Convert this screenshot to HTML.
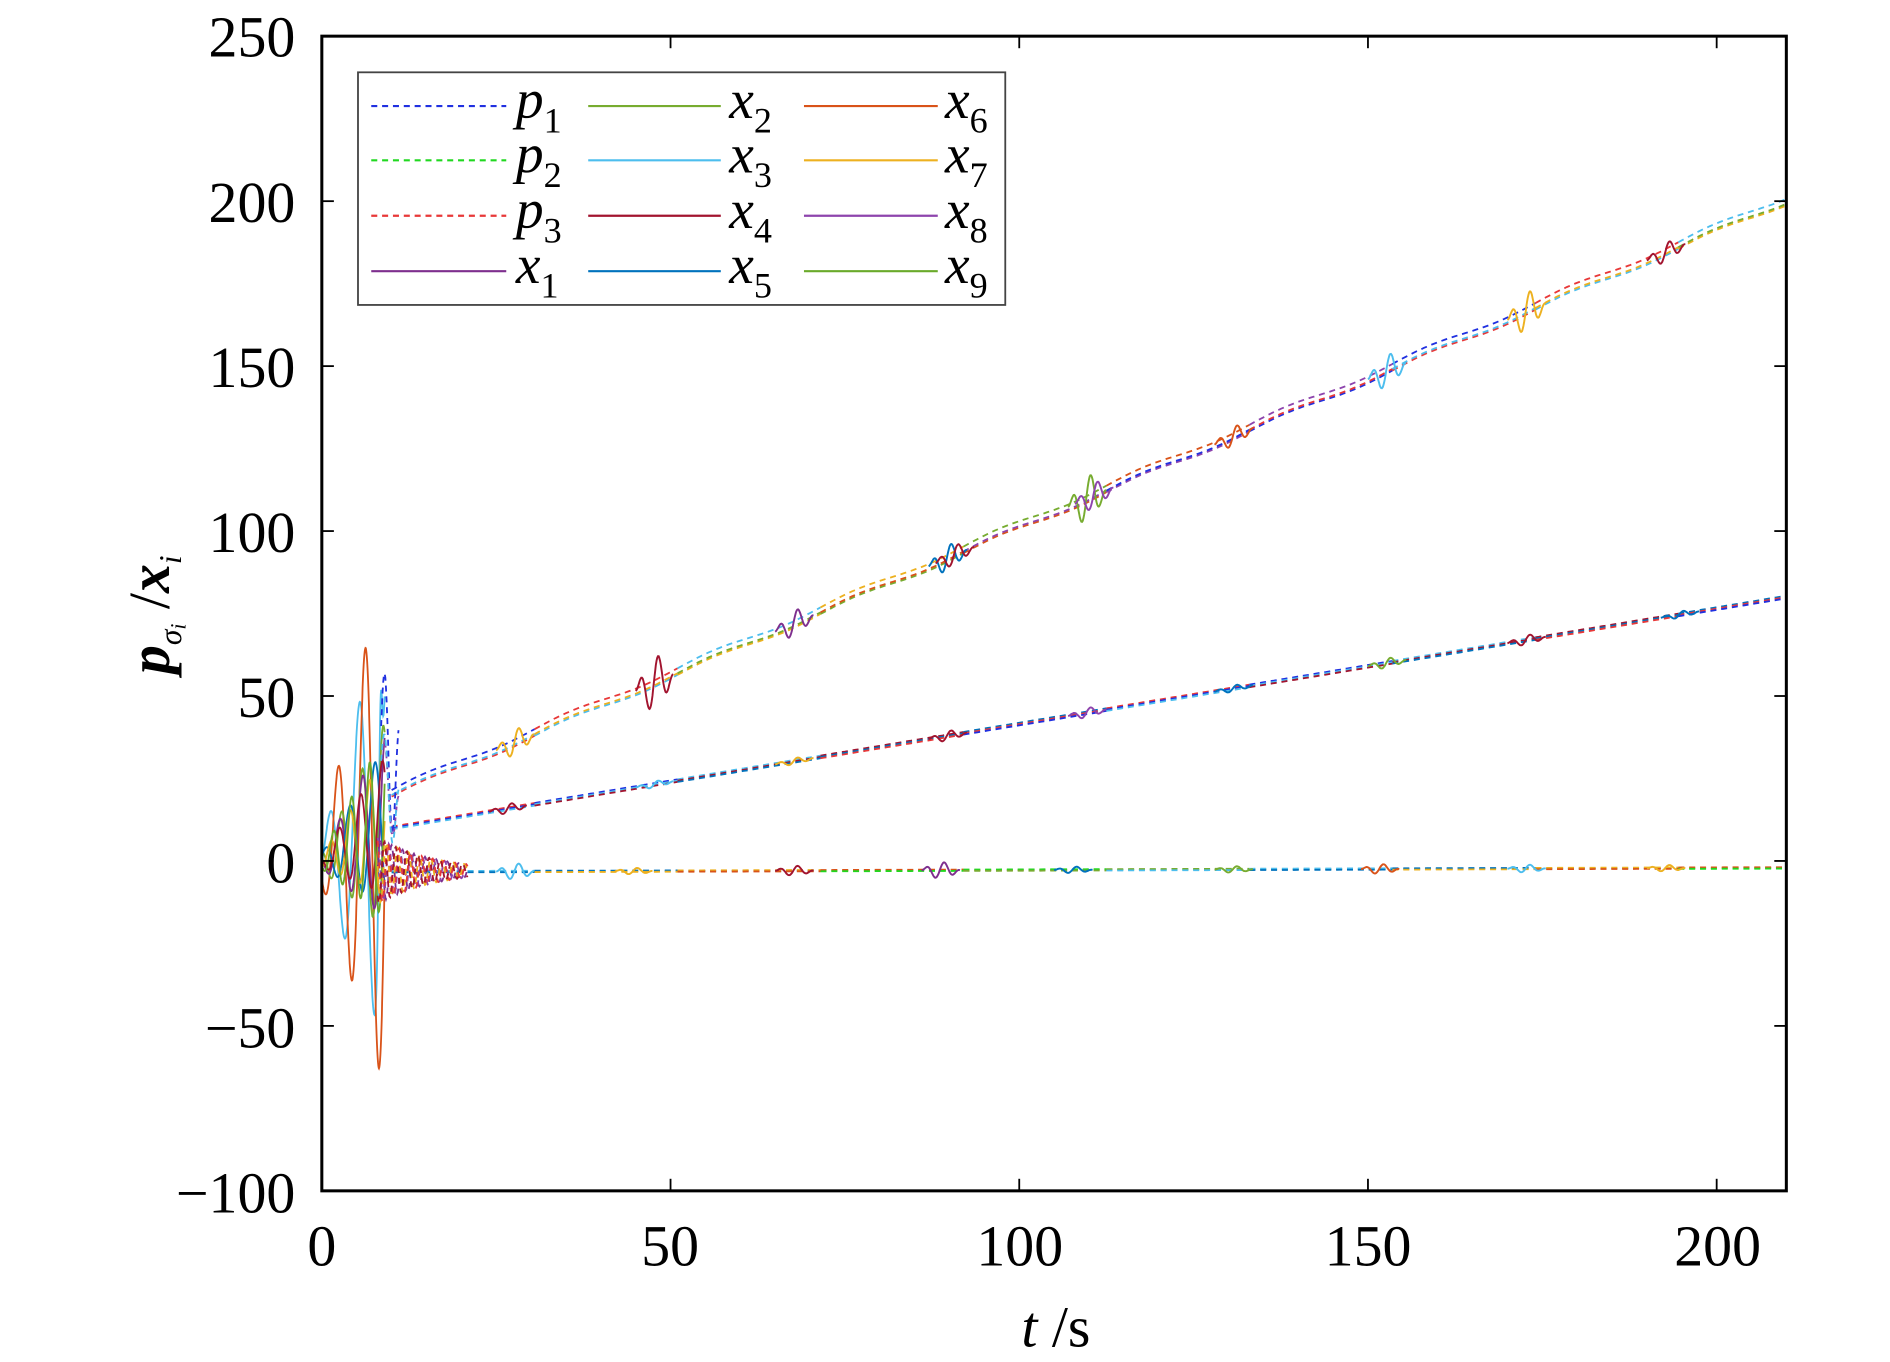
<!DOCTYPE html>
<html><head><meta charset="utf-8"><style>
html,body{margin:0;padding:0;background:#fff;}
svg{display:block;}
text{font-family:"Liberation Serif",serif;fill:#000;}
</style></head><body>
<svg id="s" width="1890" height="1362" viewBox="0 0 1568 1130" preserveAspectRatio="none" xmlns="http://www.w3.org/2000/svg">
<g id="plot"></g>
<rect x="267" y="30" width="1215" height="958" fill="none" stroke="#000" stroke-width="2.5"/>
<g id="ticks" stroke="#000" stroke-width="1.5"></g>
<g font-size="48" text-anchor="end">
<text x="245" y="47">250</text><text x="245" y="184">200</text><text x="245" y="321">150</text>
<text x="245" y="458">100</text><text x="245" y="595">50</text><text x="245" y="732">0</text>
<text x="245" y="869">−50</text><text x="245" y="1006">−100</text>
</g>
<g font-size="48" text-anchor="middle">
<text x="267" y="1050">0</text><text x="556" y="1050">50</text><text x="846" y="1050">100</text>
<text x="1135" y="1050">150</text><text x="1425" y="1050">200</text>
</g>
<text x="876" y="1117" font-size="48" text-anchor="middle"><tspan font-style="italic">t</tspan> /s</text>
<text transform="translate(140,510) rotate(-90)" font-size="48" text-anchor="middle"><tspan font-style="italic" font-weight="bold">p</tspan><tspan font-style="italic" font-size="26" dy="10">σ</tspan><tspan font-style="italic" font-size="18" dy="4">i</tspan><tspan dy="-14">  /</tspan><tspan font-style="italic" font-weight="bold">x</tspan><tspan font-style="italic" font-size="26" dy="10">i</tspan></text>
<g id="legend">
<rect x="297" y="60" width="537" height="193" fill="#fff" stroke="#444" stroke-width="1.5"/>
</g>
</svg>
<script>
const NS="http://www.w3.org/2000/svg";
const X=t=>267+t*5.786, Y=v=>714.3-v*2.737;
const C={p1:"#2030e0",p2:"#20d820",p3:"#e83838",x1:"#7e2f8e",x2:"#77ac30",x3:"#4dbeee",x4:"#a2142f",x5:"#0072bd",x6:"#d95319",x7:"#edb120",x8:"#8e44ad",x9:"#6aaa2a"};
const plot=document.getElementById("plot");
function path(pts,col,dash,w){const p=document.createElementNS(NS,"path");
 p.setAttribute("d","M"+pts.map(q=>X(q[0]).toFixed(1)+","+Y(q[1]).toFixed(1)).join("L"));
 p.setAttribute("fill","none");p.setAttribute("stroke",col);p.setAttribute("stroke-width",w||1.6);
 if(dash)p.setAttribute("stroke-dasharray","5,4");plot.appendChild(p);}
const trends=[t=>20+0.9*(t-10),t=>10+0.35*(t-10),t=>-3.3+0.006*(t-10)];
const dcols=[["p1","p3","x3","x7","x2","x6","x8"],["p3","p1","x3","x4","x5"],["x2","x3","x5","x7","x6","p2"]];
const offs=[[1.5,-0.5,0,-1.2],[0.4,0,-0.4,0.2],[0,0.2,-0.2,0.1]];
trends.forEach((f,k)=>{
 for(let s=10;s<210;s+=20.5){
  const cols=dcols[k];
  for(let j=0;j<3;j++){const c=cols[(Math.floor(s/20)+j)%cols.length];const o=offs[k][j%offs[k].length];
   const pts=[];for(let t=s;t<=Math.min(s+20.5,210);t+=0.5){const st=k==0?0.8*Math.sin((t-s)/20.5*Math.PI*2):0;pts.push([t,f(t)+o+st]);}
   path(pts,C[c],true,1.5);}
 }
});
const bursts=[
[0,25,"x7",4],[0,45,"x4",8],[0,65,"x1",4],[0,87,"x5",4],[0,88,"x4",3],[0,107,"x2",7],[0,108,"x8",4],[0,128,"x6",3],[0,150,"x3",5],[0,170,"x7",6],[0,190,"x4",3],
[1,24,"x4",1.5],[1,45,"x3",1],[1,65,"x7",1],[1,87,"x4",1.5],[1,107,"x8",1.5],[1,128,"x5",1],[1,150,"x2",1.5],[1,170,"x4",1.5],[1,192,"x5",1],
[2,25,"x3",2.5],[2,42,"x7",1],[2,65,"x4",1.5],[2,86,"x1",2.5],[2,105,"x5",1],[2,128,"x2",1],[2,149,"x6",1.5],[2,170,"x3",1.2],[2,190,"x7",1]];
bursts.forEach(b=>{const f=trends[b[0]];const pts=[];
 for(let t=b[1];t<=b[1]+5.5;t+=0.1){const e=Math.sin((t-b[1])/5.5*Math.PI);pts.push([t,f(t)+b[3]*e*Math.sin((t-b[1])*2*Math.PI/2.6)]);}
 path(pts,C[b[2]],false,1.6);});
const early=[["x3",0,0.95,1,4.3],["x6",1,1.15,-1,3.9],["x2",2,0.45,1,3.0],["x1",3,0.4,1,3.3],["x5",4,0.35,-1,3.6],["x7",5,0.3,1,2.8],["x4",6,0.3,-1,3.1],["x9",7,0.4,-1,2.6]];
early.forEach(e=>{const pts=[];for(let t=0;t<=9.0;t+=0.05){const a=e[2]*(6+7*t);let v=a*e[3]*Math.sin(2*Math.PI*t/e[4]+e[1])+t*1.2;
 if(e[0]=="x3")v+=55*Math.exp(-Math.pow((t-8.4)/0.35,2));pts.push([t,v]);}path(pts,C[e[0]],false,1.5);});
[["x1",0],["x8",1.5],["x7",3],["p3",2],["x4",4]].forEach(d=>{const pts=[];for(let t=8;t<=21;t+=0.1){const a=10*Math.exp(-(t-8)/8);pts.push([t,-3+a*Math.sin(2*Math.PI*t/1.6+d[1])]);}path(pts,C[d[0]],true,1.5);});
[["p1",20,-1],["x8",10,1],["x3",12,1]].forEach(d=>{const pts=[];for(let t=8.5;t<=11;t+=0.1){pts.push([t,trends[d[2]>0?1:0](11)+d[1]*Math.sin((t-8.5)*3)+(11-t)*8]);}path(pts,C[d[0]],true,1.5);});
const tk=document.getElementById("ticks");
function ln(a,b,c,d){const l=document.createElementNS(NS,"line");l.setAttribute("x1",a);l.setAttribute("y1",b);l.setAttribute("x2",c);l.setAttribute("y2",d);tk.appendChild(l);}
for(let v=-100;v<=250;v+=50){const y=Y(v);ln(267,y,277,y);ln(1472,y,1482,y);}
for(let t=0;t<=200;t+=50){const x=X(t);ln(x,988,x,978);ln(x,30,x,40);}
const lg=document.getElementById("legend");
const rows=[88,133,179,225];
const items=[["p1","p","1",true],["p2","p","2",true],["p3","p","3",true],["x1","x","1"],["x2","x","2"],["x3","x","3"],["x4","x","4"],["x5","x","5"],["x6","x","6"],["x7","x","7"],["x8","x","8"],["x9","x","9"]];
const colx=[[308,420,428],[488,598,605],[667,778,784]];
items.forEach((it,i)=>{const c=colx[Math.floor(i/4)],y=rows[i%4];
 const l=document.createElementNS(NS,"line");l.setAttribute("x1",c[0]);l.setAttribute("x2",c[1]);l.setAttribute("y1",y);l.setAttribute("y2",y);
 l.setAttribute("stroke",C[it[0]]);l.setAttribute("stroke-width",1.8);if(it[3])l.setAttribute("stroke-dasharray","5,4");lg.appendChild(l);
 const t=document.createElementNS(NS,"text");t.setAttribute("x",c[2]);t.setAttribute("y",y+10);t.setAttribute("font-size","46");
 t.innerHTML='<tspan font-style="italic">'+it[1]+'</tspan><tspan font-size="30" dy="12">'+it[2]+'</tspan>';lg.appendChild(t);});
</script>
</body></html>
